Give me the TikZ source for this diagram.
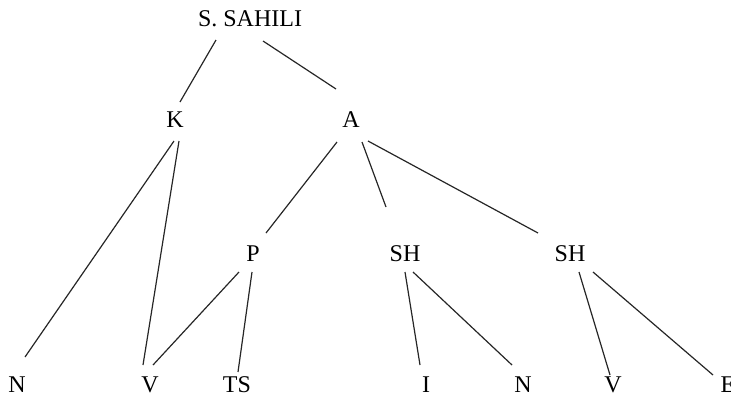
\documentclass[tikz,border=0pt]{standalone}
\usepackage{fontspec}
\setmainfont{Liberation Serif}
\usepackage{tikz}
\usetikzlibrary{positioning}

\begin{document}
\begin{tikzpicture}[
  x=0.75pt, y=-0.75pt,
  word/.style = {inner sep=0pt, font=\fontsize{18}{20}\selectfont},
  branch/.style = {draw=black!85, line width=0.9pt}
  ]
	\useasboundingbox (0,0) rectangle (731,397);

	% top and middle levels
	\node[word] (sahili) at (250,19) {S. SAHILI};
	\node[word] (k) at (175,120) {K};
	\node[word] (a) at (351,120) {A};
	\node[word] (p) at (253,254) {P};
	\node[word] (sha) at (405,254) {SH};
	\node[word] (shb) at (570,254) {SH};

	% bottom level
	\node[word] (na) at (17,385) {N};
	\node[word] (va) at (150,385) {V};
	\node[word] (ts) at (237,385) {TS};
	\node[word] (i) at (426,385) {I};
	\node[word] (nb) at (523,385) {N};
	\node[word] (vb) at (613,385) {V};
	\node[word] (e) at (728,385) {E};

	\draw[branch] ([shift={(-34,21)}]sahili.center) -- ([shift={(5,-18)}]k.center);
	\draw[branch] ([shift={(13,22)}]sahili.center) -- ([shift={(-15,-31)}]a.center);

	\draw[branch] ([shift={(-1,21)}]k.center) -- ([shift={(8,-28)}]na.center);
	\draw[branch] ([shift={(4,21)}]k.center) -- ([shift={(-7,-20)}]va.center);

	\draw[branch] ([shift={(-14,22)}]a.center) -- ([shift={(13,-21)}]p.center);
	\draw[branch] ([shift={(11,22)}]a.center) -- ([shift={(-19,-47)}]sha.center);
	\draw[branch] ([shift={(17,21)}]a.center) -- ([shift={(-32,-21)}]shb.center);

	\draw[branch] ([shift={(-14,18)}]p.center) -- ([shift={(3,-20)}]va.center);
	\draw[branch] ([shift={(-1,18)}]p.center) -- ([shift={(1,-13)}]ts.center);

	\draw[branch] ([shift={(0,18)}]sha.center) -- ([shift={(-6,-20)}]i.center);
	\draw[branch] ([shift={(8,18)}]sha.center) -- ([shift={(-11,-20)}]nb.center);

	\draw[branch] ([shift={(9,18)}]shb.center) -- ([shift={(-3,-10)}]vb.center);
	\draw[branch] ([shift={(23,18)}]shb.center) -- ([shift={(-15,-10)}]e.center);

\end{tikzpicture}
\end{document}
